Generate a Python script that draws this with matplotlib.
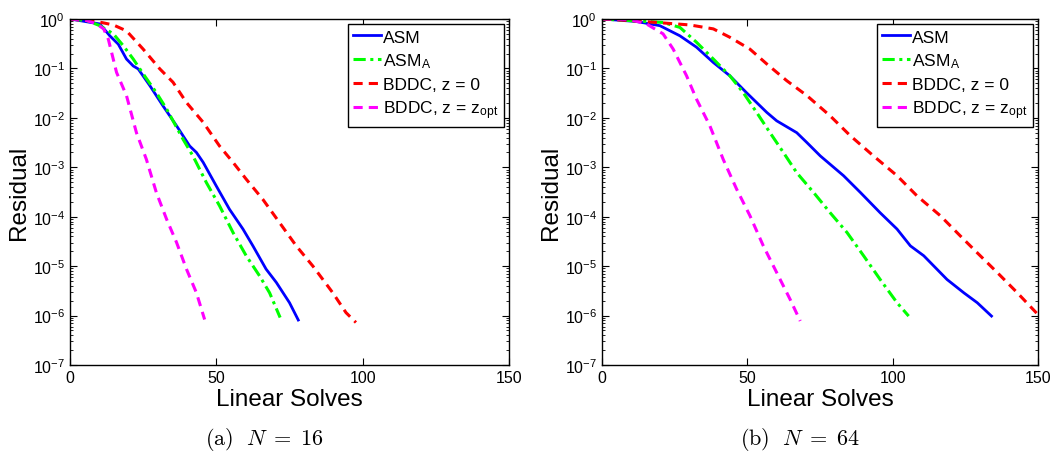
import matplotlib
matplotlib.use("Agg")
import matplotlib.pyplot as plt
import numpy as np

plt.rcParams['font.family'] = ['Liberation Sans', 'DejaVu Sans']
plt.rcParams['mathtext.fontset'] = 'cm'

# ---- data (x = linear solves, y = log10 residual) ----
# (a) N = 16
a_asm_x = [0, 10.2, 13.6, 16.5, 19.3, 21.6, 23.3, 27.3, 31.8, 36.4, 40.9, 43.2, 45.5, 50, 54.5, 59.1, 62.5, 67, 70.5, 75, 78]
a_asm_y = [0, -0.10, -0.34, -0.51, -0.81, -0.95, -1.01, -1.35, -1.76, -2.16, -2.57, -2.70, -2.90, -3.38, -3.85, -4.25, -4.59, -5.06, -5.33, -5.74, -6.09]
a_asma_x = [0, 5.7, 10.2, 14.8, 18.2, 21.6, 25, 29.5, 33, 38.6, 42, 46.6, 51.1, 55.7, 60.2, 64.8, 68.2, 71.8]
a_asma_y = [0, -0.03, -0.135, -0.30, -0.54, -0.81, -1.11, -1.49, -1.82, -2.43, -2.77, -3.31, -3.78, -4.32, -4.79, -5.20, -5.54, -6.04]
a_bz_x = [0, 9.1, 14.8, 19.3, 25, 30.7, 35.2, 39.8, 45.5, 51.1, 55.7, 60.2, 65.9, 71.6, 77.3, 83, 89.8, 94.3, 97.7]
a_bz_y = [0, -0.05, -0.12, -0.24, -0.61, -1.01, -1.28, -1.69, -2.09, -2.57, -2.90, -3.24, -3.65, -4.12, -4.59, -5.0, -5.54, -5.94, -6.14]
a_bo_x = [0, 5.7, 9.1, 11.5, 13.1, 15.9, 19.3, 22.7, 26.1, 29.5, 33, 36.4, 39.8, 43.2, 46]
a_bo_y = [0, -0.03, -0.10, -0.2, -0.41, -1.08, -1.55, -2.30, -2.84, -3.51, -4.05, -4.52, -5.06, -5.54, -6.08]

# (b) N = 64
b_asm_x = [0, 11.8, 19.9, 26.8, 32.5, 38.3, 44, 49.7, 56.7, 60.1, 67, 70.5, 75.1, 83.1, 88.9, 95.7, 101.5, 106.1, 110.7, 118.7, 124.5, 129.1, 134]
b_asm_y = [0, -0.05, -0.135, -0.34, -0.57, -0.88, -1.15, -1.49, -1.89, -2.06, -2.30, -2.50, -2.77, -3.17, -3.51, -3.92, -4.25, -4.59, -4.79, -5.27, -5.54, -5.74, -6.01]
b_asma_x = [0, 21, 26.8, 32.5, 38.3, 44, 48.6, 53.2, 57.8, 62.4, 67, 72.8, 78.5, 84.3, 90, 95.7, 101.5, 105.5]
b_asma_y = [0, -0.07, -0.17, -0.47, -0.81, -1.15, -1.49, -1.89, -2.30, -2.70, -3.11, -3.51, -3.92, -4.32, -4.79, -5.27, -5.74, -6.01]
b_bz_x = [0, 9.5, 21, 30.2, 38.3, 44, 50.9, 56.7, 63.6, 70.5, 78.5, 85.4, 93.4, 101.5, 108.4, 116.4, 123.3, 129.1, 136, 142.9, 150]
b_bz_y = [0, -0.03, -0.08, -0.12, -0.20, -0.37, -0.61, -0.91, -1.25, -1.55, -1.96, -2.36, -2.77, -3.17, -3.58, -3.98, -4.39, -4.73, -5.13, -5.54, -5.98]
b_bo_x = [0, 9.5, 15.3, 21, 24.5, 29.1, 32.5, 37.1, 41.7, 46.3, 50.9, 55.5, 60.1, 64.7, 68.2]
b_bo_y = [0, -0.01, -0.10, -0.30, -0.61, -1.15, -1.62, -2.16, -2.84, -3.44, -3.98, -4.59, -5.13, -5.67, -6.11]

labels = ['ASM', r'ASM$_\mathregular{A}$', 'BDDC, z = 0', r'BDDC, z = z$_\mathregular{opt}$']
captions = [r'$\mathrm{(a)}\ \ N \;=\; 16$', r'$\mathrm{(b)}\ \ N \;=\; 64$']

panels = [
    [(a_asm_x, a_asm_y), (a_asma_x, a_asma_y), (a_bz_x, a_bz_y), (a_bo_x, a_bo_y)],
    [(b_asm_x, b_asm_y), (b_asma_x, b_asma_y), (b_bz_x, b_bz_y), (b_bo_x, b_bo_y)],
]
styles = [
    dict(color='#0000ff', linestyle='-', linewidth=2.0),
    dict(color='#00ff00', linestyle=(0, (4, 1.5, 1, 1.5)), linewidth=2.2),
    dict(color='#ff0000', linestyle=(0, (3, 2)), linewidth=2.2),
    dict(color='#ff00ff', linestyle=(0, (3, 2)), linewidth=2.2),
]

fig = plt.figure(figsize=(10.56, 4.56), dpi=100)
rects = [[70 / 1056, 90 / 456, 439 / 1056, 346 / 456],
         [602 / 1056, 90 / 456, 436 / 1056, 346 / 456]]
cap_x = [264 / 1056, 800 / 1056]

for i, series in enumerate(panels):
    ax = fig.add_axes(rects[i])
    for (xs, ys), st, lab in zip(series, styles, labels):
        ax.semilogy(xs, 10 ** np.array(ys), label=lab, **st)
    ax.set_xlim(0, 150)
    ax.set_ylim(1e-7, 1)
    ax.set_xticks([0, 50, 100, 150])
    ax.set_yticks([10.0 ** k for k in range(-7, 1)])
    ax.tick_params(which='both', direction='in', top=True, right=True, labelsize=11.5)
    ax.tick_params(which='major', length=5)
    ax.tick_params(which='minor', length=2.5)
    for s in ax.spines.values():
        s.set_linewidth(1.0)
    ax.set_xlabel('Linear Solves', fontsize=17.5, labelpad=2)
    ax.set_ylabel('Residual', fontsize=17.5, labelpad=2)
    leg = ax.legend(loc='upper right', fontsize=12.5, fancybox=False, edgecolor='black',
                    framealpha=1, handlelength=1.6, handletextpad=0.1,
                    labelspacing=0.38, borderpad=0.3, borderaxespad=0.3)
    leg.get_frame().set_linewidth(1.0)
    fig.text(cap_x[i], 1 - 440 / 456, captions[i], ha='center', va='center', fontsize=16)

fig.savefig('out.png', dpi=100)
